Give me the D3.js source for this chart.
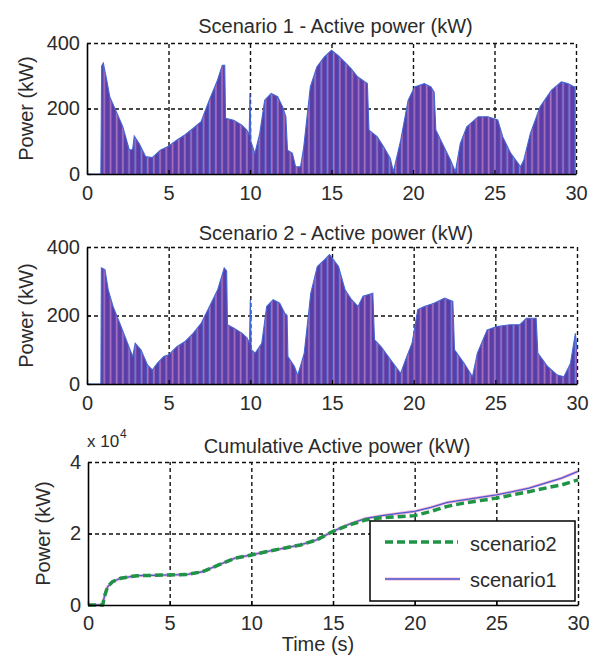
<!DOCTYPE html>
<html><head><meta charset="utf-8">
<script src="https://cdn.jsdelivr.net/npm/d3@7"></script>
<style>
body{margin:0;background:#fff}
svg text{font-family:"Liberation Sans",Arial,sans-serif;fill:#2b2b2b}
</style></head>
<body><svg id="c" width="589" height="655"></svg>
<script>
// ---------- data ----------
const xTicks = [0, 5, 10, 15, 20, 25, 30];
const powerTicks = [0, 200, 400];
const cumTicks = [0, 20000, 40000];

const s1Time  = [0,0.85,0.9,1.0,1.2,1.4,1.8,2.2,2.6,2.8,2.9,3.2,3.6,4.0,4.5,5,5.5,6,6.5,7,7.5,8,8.3,8.45,8.5,9,9.5,9.8,9.95,10,10.05,10.3,10.6,10.9,11.3,11.7,12,12.2,12.3,12.6,12.8,13.1,13.3,13.7,14.1,14.55,15,15.4,15.8,16.2,16.6,17.2,17.3,17.8,18.2,18.6,18.8,19.25,19.7,20.1,20.7,21.1,21.3,21.4,21.9,22.3,22.6,22.9,23.3,24,24.6,25.2,25.5,26,26.6,26.8,27.2,27.8,28.5,29.1,29.5,29.9,30];
const s1Power = [0,0,330,339,290,235,190,144,73,75,116,93,53,50,73,85,103,119,139,160,225,286,332,332,170,164,149,134,120,246,100,63,124,225,246,236,205,175,73,63,22,22,83,266,327,357,378,362,342,322,297,276,134,114,83,48,7,104,225,266,276,266,250,134,83,43,7,93,144,175,175,165,114,63,22,43,124,205,256,281,276,266,266];

const s2Time  = [0,0.85,0.88,1.1,1.3,1.6,2,2.4,2.8,2.95,3.3,3.7,4,4.3,4.7,5,5.5,6,6.5,7,7.5,8,8.4,8.55,8.6,9,9.5,9.8,9.95,10,10.05,10.3,10.7,11,11.4,11.8,12.1,12.25,12.3,12.7,12.9,13.3,13.7,14.1,14.55,14.85,15.4,15.8,16.2,16.6,16.9,17.5,17.6,18,18.6,19.2,19.5,19.9,20.25,20.65,21.25,21.9,22.4,22.5,23.1,23.6,23.9,24.5,25.1,25.9,26.5,26.9,27.5,27.6,28.2,28.8,29.2,29.6,29.9,30];
const s2Power = [0,0,339,334,275,226,178,129,80,119,100,56,41,60,80,85,109,124,148,178,226,275,339,330,173,163,148,134,120,246,100,90,119,226,246,236,207,200,80,51,25,90,265,343,363,378,343,275,246,226,256,265,129,109,70,31,70,119,217,226,236,251,241,100,60,21,90,158,168,173,173,192,192,90,51,26,21,60,148,100];

const cumTime = [0,0.9,1,1.2,1.5,2,3,4,5,6,7,8,9,10,11,12,13,14,15,16,17,18,19,20,21,22,23,24,25,26,27,28,29,30];
const cumScenario1 = [0,0,2300,5100,6500,7500,8200,8300,8400,8500,9300,11200,13100,14000,15000,15900,16800,18200,20600,22600,24200,25000,25600,26200,27300,28700,29400,30100,30800,31700,32700,34100,35500,37400];
const cumScenario2 = [0,0,2300,5100,6500,7500,8200,8300,8400,8500,9300,11200,13100,14000,15000,15900,16800,18200,20600,22400,23800,24400,24700,25000,26200,27600,28500,29200,29900,30800,31700,32700,33600,35000];

const titles = ["Scenario 1 - Active power (kW)", "Scenario 2 - Active power (kW)", "Cumulative Active power (kW)"];
const yLabel = "Power (kW)";
const xLabel = "Time (s)";
const legendLabels = ["scenario2", "scenario1"];

// ---------- drawing ----------
const svg = d3.select("#c");
const defs = svg.append("defs");
const pat = defs.append("pattern").attr("id","stripes")
  .attr("patternUnits","userSpaceOnUse").attr("width",6.2).attr("height",10);
pat.append("rect").attr("width",6.2).attr("height",10).attr("fill","#5a3da6");
pat.append("rect").attr("x",3.8).attr("width",1).attr("height",10).attr("fill","#4063cc");
pat.append("rect").attr("x",4.8).attr("width",0.9).attr("height",10).attr("fill","#e48ac2");

const panels = [
  {top:43, bottom:174, left:87, right:576, title:titles[0], titleY:33, pad:12, ylabX:33},
  {top:247, bottom:384, left:87, right:577, title:titles[1], titleY:240, pad:12, ylabX:33},
  {top:462, bottom:605, left:88, right:578, title:titles[2], titleY:453, pad:11, ylabX:50}
];

function grid(g, x, y, yt, p){
  const gx = g.append("g").attr("transform",`translate(0,${p.bottom})`)
    .call(d3.axisBottom(x).tickValues(xTicks.slice(1)).tickSize(-(p.bottom-p.top)).tickFormat(""));
  gx.select(".domain").remove();
  const gy = g.append("g").attr("transform",`translate(${p.left},0)`)
    .call(d3.axisLeft(y).tickValues(yt.slice(1)).tickSize(-(p.right-p.left)).tickFormat(""));
  gy.select(".domain").remove();
  g.selectAll(".tick line").attr("stroke","#111").attr("stroke-width",1.4).attr("stroke-dasharray","4,3");
}

function axes(g, x, y, yt, p, fmt){
  const ax = g.append("g").attr("transform",`translate(0,${p.bottom})`)
    .call(d3.axisBottom(x).tickValues(xTicks).tickSizeInner(-4).tickSizeOuter(0).tickPadding(p.pad));
  const ay = g.append("g").attr("transform",`translate(${p.left},0)`)
    .call(d3.axisLeft(y).tickValues(yt).tickSizeInner(-4).tickSizeOuter(0).tickPadding(7).tickFormat(fmt));
  [ax,ay].forEach(a=>{
    a.select(".domain").attr("stroke","#000").attr("stroke-width",1.6);
    a.selectAll(".tick line").attr("stroke","#000").attr("stroke-width",1.2);
    a.selectAll(".tick text").attr("font-size",20).attr("font-family","'Liberation Sans',Arial,sans-serif").attr("fill","#2b2b2b");
  });
}

function labels(p){
  svg.append("text").attr("x",(p.left+p.right)/2+4).attr("y",p.titleY)
    .attr("text-anchor","middle").attr("font-size",20).text(p.title);
  svg.append("text").attr("transform",`translate(${p.ylabX},${(p.top+p.bottom)/2}) rotate(-90)`)
    .attr("text-anchor","middle").attr("font-size",20).text(yLabel);
}

function powerPanel(p, times, vals){
  const x = d3.scaleLinear().domain([0,30]).range([p.left,p.right]);
  const y = d3.scaleLinear().domain([0,400]).range([p.bottom,p.top]);
  const g = svg.append("g");
  grid(g, x, y, powerTicks, p);
  const pts = times.map((t,i)=>[t, vals[i]]);
  const area = d3.area().x(d=>x(d[0])).y0(y(0)).y1(d=>y(d[1]));
  g.append("path").datum(pts).attr("d",area).attr("fill","url(#stripes)");
  const line = d3.line().x(d=>x(d[0])).y(d=>y(d[1]));
  g.append("path").datum(pts).attr("d",line).attr("fill","none").attr("stroke","#4466d4").attr("stroke-width",1.1);
  axes(g, x, y, powerTicks, p, d3.format("d"));
  labels(p);
}

powerPanel(panels[0], s1Time, s1Power);
powerPanel(panels[1], s2Time, s2Power);

// cumulative panel
(function(){
  const p = panels[2];
  const x = d3.scaleLinear().domain([0,30]).range([p.left,p.right]);
  const y = d3.scaleLinear().domain([0,40000]).range([p.bottom,p.top]);
  const g = svg.append("g");
  grid(g, x, y, cumTicks, p);
  const line = d3.line().x((d,i)=>x(cumTime[i])).y(d=>y(d));
  g.append("path").datum(cumScenario1).attr("d",line).attr("fill","none")
    .attr("stroke","#f2b0d0").attr("stroke-width",3);
  g.append("path").datum(cumScenario1).attr("d",line).attr("fill","none")
    .attr("stroke","#4a5bd6").attr("stroke-width",1.3);
  g.append("path").datum(cumScenario2).attr("d",line).attr("fill","none")
    .attr("stroke","#1f9447").attr("stroke-width",3.5).attr("stroke-dasharray","8,4");
  axes(g, x, y, cumTicks, p, d=>d/1e4);
  labels(p);
  // exponent label
  svg.append("text").attr("x",87).attr("y",447).attr("font-size",17).text("x 10");
  svg.append("text").attr("x",120).attr("y",438).attr("font-size",12).text("4");
  // x label
  svg.append("text").attr("x",318).attr("y",651).attr("text-anchor","middle").attr("font-size",20).text(xLabel);
  // legend
  const lg = svg.append("g");
  lg.append("rect").attr("x",370).attr("y",521).attr("width",205).attr("height",80)
    .attr("fill","#fff").attr("stroke","#000").attr("stroke-width",1.5);
  lg.append("line").attr("x1",385).attr("x2",458).attr("y1",542).attr("y2",542)
    .attr("stroke","#1f9447").attr("stroke-width",3.5).attr("stroke-dasharray","8,4");
  lg.append("text").attr("x",470).attr("y",551).attr("font-size",20).text(legendLabels[0]);
  lg.append("line").attr("x1",385).attr("x2",460).attr("y1",579).attr("y2",579)
    .attr("stroke","#f2b0d0").attr("stroke-width",3);
  lg.append("line").attr("x1",385).attr("x2",460).attr("y1",579).attr("y2",579)
    .attr("stroke","#4a5bd6").attr("stroke-width",1.3);
  lg.append("text").attr("x",470).attr("y",587).attr("font-size",20).text(legendLabels[1]);
})();
</script>
</body></html>
